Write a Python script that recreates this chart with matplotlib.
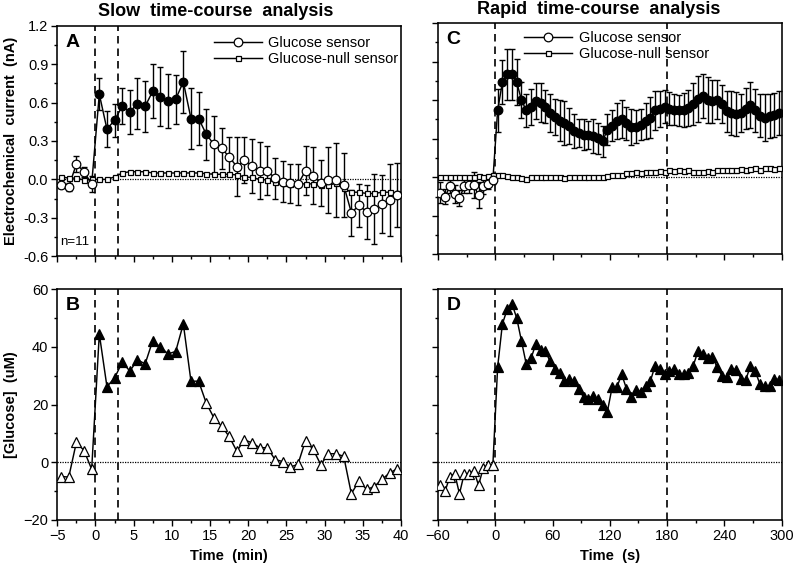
import matplotlib
matplotlib.use('Agg')
import matplotlib.pyplot as plt
import numpy as np
from matplotlib.lines import Line2D
from matplotlib.ticker import MultipleLocator

plt.rcParams['font.family'] = ['Liberation Sans', 'DejaVu Sans']

# ---------------- Slow time-course (min) ----------------
slow_time = [-4.5, -3.5, -2.5, -1.5, -0.5, 0.5, 1.5, 2.5, 3.5, 4.5, 5.5, 6.5, 7.5, 8.5,
             9.5, 10.5, 11.5, 12.5, 13.5, 14.5, 15.5, 16.5, 17.5, 18.5, 19.5, 20.5,
             21.5, 22.5, 23.5, 24.5, 25.5, 26.5, 27.5, 28.5, 29.5, 30.5, 31.5, 32.5,
             33.5, 34.5, 35.5, 36.5, 37.5, 38.5, 39.5]
slow_current = [-0.044, -0.057, 0.12, 0.06, -0.036,
                0.665, 0.392, 0.462, 0.571, 0.527, 0.592, 0.571, 0.688, 0.644, 0.61,
                0.626, 0.761, 0.475, 0.475, 0.353,
                0.273, 0.242, 0.177, 0.099, 0.151, 0.106, 0.068, 0.068, 0.008, -0.018,
                -0.031, -0.039, 0.068, 0.029, -0.031, -0.005, -0.005, -0.044, -0.26,
                -0.203, -0.252, -0.231, -0.192, -0.161, -0.122]
slow_current_err = [0.02, 0.03, 0.06, 0.04, 0.06,
                    0.127, 0.138, 0.13, 0.14, 0.17, 0.2, 0.2, 0.21, 0.23, 0.21,
                    0.19, 0.24, 0.24, 0.21, 0.2,
                    0.22, 0.16, 0.15, 0.23, 0.18, 0.21, 0.22, 0.19, 0.16, 0.16,
                    0.15, 0.16, 0.19, 0.22, 0.18, 0.26, 0.29, 0.25, 0.18,
                    0.17, 0.21, 0.27, 0.23, 0.28, 0.25]
slow_current_sig = [False] * 5 + [True] * 15 + [False] * 25
slow_null = [0.02, 0.01, 0.01, -0.005, 0.0, 0.0, 0.0, 0.02, 0.05, 0.06, 0.06, 0.06,
             0.05, 0.05, 0.05, 0.05, 0.05, 0.05, 0.05, 0.045, 0.04, 0.04, 0.04, 0.035,
             0.02, 0.015, 0.0, -0.005, -0.02, -0.03, -0.035, -0.035, -0.035, -0.035,
             -0.045, -0.045, -0.03, -0.07, -0.1, -0.1, -0.11, -0.11, -0.1, -0.1, -0.11]
slow_glucose = [-5.0, -5.2, 6.9, 4.0, -2.5,
                44.5, 26.2, 29.2, 34.7, 31.6, 35.5, 34.1, 42.2, 39.9, 37.6, 38.4, 48.0,
                28.1, 28.1,
                20.5, 15.4, 12.5, 8.9, 3.8, 7.7, 6.7, 5.0, 5.0, 0.9, 0.2, -1.7, -0.8,
                7.5, 4.4, -0.9, 2.9, 2.9, 2.0,
                -11.0, -6.5, -9.5, -8.5, -6.0, -3.8, -2.3]
slow_glucose_sig = [False] * 5 + [True] * 14 + [False] * 26
slow_marks = [0, 3]

# ---------------- Rapid time-course (s) ----------------
rapid_time = [-57.5, -52.5, -47.5, -42.5, -37.5, -32.5, -27.5, -22.5, -17.5, -12.5, -7.5, -2.5,
              2.5, 7.5, 12.5, 17.5, 22.5, 27.5, 32.5, 37.5, 42.5, 47.5, 52.5, 57.5,
              62.5, 67.5, 72.5, 77.5, 82.5, 87.5, 92.5, 97.5, 102.5, 107.5, 112.5, 117.5,
              122.5, 127.5, 132.5, 137.5, 142.5, 147.5, 152.5, 157.5, 162.5, 167.5, 172.5, 177.5,
              182.5, 187.5, 192.5, 197.5, 202.5, 207.5, 212.5, 217.5, 222.5, 227.5, 232.5, 237.5,
              242.5, 247.5, 252.5, 257.5, 262.5, 267.5, 272.5, 277.5, 282.5, 287.5, 292.5, 297.5]
rapid_current = [-0.12, -0.15, -0.07, -0.13, -0.16, -0.07, -0.06, -0.06, -0.14, -0.07, -0.05, -0.02,
                 0.52, 0.74, 0.80, 0.80, 0.74, 0.60, 0.52, 0.55, 0.59, 0.58, 0.55, 0.50,
                 0.47, 0.44, 0.425, 0.40, 0.36, 0.345, 0.33, 0.33, 0.32, 0.305, 0.28, 0.37,
                 0.40, 0.435, 0.455, 0.42, 0.39, 0.395, 0.41, 0.44, 0.465, 0.52, 0.53, 0.55,
                 0.535, 0.525, 0.52, 0.525, 0.54, 0.57, 0.61, 0.63, 0.60, 0.59, 0.605, 0.57,
                 0.515, 0.50, 0.495, 0.50, 0.535, 0.56, 0.52, 0.48, 0.465, 0.475, 0.485, 0.50]
rapid_current_err = [0.08, 0.06, 0.05, 0.07, 0.06, 0.05, 0.06, 0.1, 0.1, 0.06, 0.04, 0.03,
                     0.17, 0.17, 0.2, 0.2, 0.18, 0.14, 0.13, 0.14, 0.14, 0.15, 0.13, 0.15,
                     0.14, 0.16, 0.17, 0.14, 0.13, 0.11, 0.12, 0.11, 0.13, 0.12, 0.12, 0.12,
                     0.12, 0.14, 0.15, 0.13, 0.14, 0.13, 0.12, 0.14, 0.16, 0.15, 0.14, 0.13,
                     0.13, 0.12, 0.12, 0.13, 0.14, 0.16, 0.18, 0.17, 0.18, 0.17, 0.15, 0.15,
                     0.16, 0.17, 0.17, 0.15, 0.16, 0.18, 0.17, 0.17, 0.18, 0.17, 0.17, 0.17]
rapid_current_sig = [False] * 12 + [True] * 60
rapid_null = [0.0, 0.0, 0.0, 0.005, 0.0, 0.005, 0.0, 0.005, 0.01, 0.005, 0.01, 0.015,
              0.02, 0.02, 0.01, 0.0, 0.0, -0.005, -0.01, 0.0, 0.0, 0.0, 0.005, 0.0,
              0.005, 0.0, -0.005, 0.005, 0.005, 0.0, 0.005, 0.005, 0.0, 0.005, 0.005, 0.01,
              0.015, 0.02, 0.02, 0.03, 0.03, 0.04, 0.035, 0.045, 0.04, 0.045, 0.05, 0.045,
              0.055, 0.05, 0.055, 0.05, 0.055, 0.045, 0.04, 0.04, 0.05, 0.045, 0.055, 0.06,
              0.06, 0.055, 0.06, 0.065, 0.06, 0.065, 0.07, 0.06, 0.07, 0.07, 0.065, 0.07]
rapid_glucose = [-8, -10, -5, -4, -11, -4, -4, -3, -8, -2, -1, -1,
                 33, 48, 53, 55, 50, 42, 34, 36, 41, 39, 38.5, 35,
                 32.5, 31, 28, 29, 28, 25.5, 22.5, 22, 23, 22, 20, 17.5,
                 26, 26, 30.5, 25.5, 22.5, 25, 24.5, 26.5, 28, 33.5, 32.5, 30.5,
                 31.5, 32.5, 30.5, 30.5, 31, 33.5, 38.5, 37.5, 36, 36.5, 33, 30,
                 29.5, 32.5, 32, 29, 28.5, 33.5, 31.5, 27, 26.5, 26.5, 29, 28.5]
rapid_glucose_sig = [False] * 12 + [True] * 60
rapid_marks = [0, 180]

W, H = 796, 570
fig = plt.figure(figsize=(W / 100, H / 100), dpi=100)


def px_axes(left, top, right, bottom):
    return fig.add_axes([left / W, 1 - bottom / H, (right - left) / W, (bottom - top) / H])


axA = px_axes(57.3, 25.6, 401, 256.3)
axB = px_axes(57.3, 289.3, 401, 519.7)
axC = px_axes(438, 23.0, 781.5, 254.5)
axD = px_axes(438, 289.3, 781.5, 519.7)

LW = 1.05


def style(ax, xlim, ylim, xmaj, xmin, ymaj, ymin, xlabels, ylabels):
    ax.set_xlim(*xlim)
    ax.set_ylim(*ylim)
    ax.xaxis.set_major_locator(MultipleLocator(xmaj))
    ax.xaxis.set_minor_locator(MultipleLocator(xmin))
    ax.yaxis.set_major_locator(MultipleLocator(ymaj))
    ax.yaxis.set_minor_locator(MultipleLocator(ymin))
    ax.tick_params(which='major', direction='out', length=4.5, width=1.0, labelsize=10.5, pad=2)
    ax.tick_params(which='minor', direction='out', length=2.5, width=1.0)
    ax.tick_params(axis='x', labelbottom=xlabels)
    ax.tick_params(axis='y', labelleft=ylabels)
    for s in ax.spines.values():
        s.set_linewidth(1.15)
    ax.axhline(0, color='k', lw=0.9, ls=(0, (1, 1)), zorder=1)


def current_panel(ax, t, y, err, sig, null, marks):
    t = np.array(t); y = np.array(y); sig = np.array(sig)
    for m in marks:
        ax.axvline(m, color='k', lw=1.2, ls=(0, (4.5, 3)), zorder=1)
    ax.errorbar(t, y, yerr=err, fmt='-', color='k', lw=LW, elinewidth=1.0,
                capsize=2.2, capthick=1.0, zorder=3)
    ax.plot(t, null, '-', color='k', lw=LW, zorder=2)
    ax.plot(t, null, 's', mfc='white', mec='k', ms=3.6, mew=0.9, zorder=4)
    ax.plot(t[sig], y[sig], 'o', mfc='k', mec='k', ms=6.2, mew=0.9, zorder=5)
    ax.plot(t[~sig], y[~sig], 'o', mfc='white', mec='k', ms=6.2, mew=0.9, zorder=5)


def glucose_panel(ax, t, y, sig, marks):
    t = np.array(t); y = np.array(y); sig = np.array(sig)
    for m in marks:
        ax.axvline(m, color='k', lw=1.2, ls=(0, (4.5, 3)), zorder=1)
    ax.plot(t, y, '-', color='k', lw=LW, zorder=2)
    ax.plot(t[sig], y[sig], '^', mfc='k', mec='k', ms=6.8, mew=0.9, zorder=4)
    ax.plot(t[~sig], y[~sig], '^', mfc='white', mec='k', ms=6.8, mew=0.9, zorder=4)


current_panel(axA, slow_time, slow_current, slow_current_err, slow_current_sig, slow_null, slow_marks)
glucose_panel(axB, slow_time, slow_glucose, slow_glucose_sig, slow_marks)
current_panel(axC, rapid_time, rapid_current, rapid_current_err, rapid_current_sig, rapid_null, rapid_marks)
glucose_panel(axD, rapid_time, rapid_glucose, rapid_glucose_sig, rapid_marks)

style(axA, (-5, 40), (-0.6, 1.2), 5, 2.5, 0.3, 0.15, False, True)
style(axB, (-5, 40), (-20, 60), 5, 2.5, 20, 10, True, True)
style(axC, (-60, 300), (-0.6, 1.2), 60, 30, 0.3, 0.15, False, False)
style(axD, (-60, 300), (-20, 60), 60, 30, 20, 10, True, False)

axA.yaxis.set_major_formatter(matplotlib.ticker.FormatStrFormatter('%.1f'))

for ax, letter in [(axA, 'A'), (axB, 'B'), (axC, 'C'), (axD, 'D')]:
    ax.text(0.025, 0.965, letter, transform=ax.transAxes, fontsize=14,
            fontweight='bold', va='top', ha='left')

axA.text(0.008, 0.035, 'n=11', transform=axA.transAxes, fontsize=9.5, va='bottom', ha='left')

handles = [Line2D([], [], color='k', lw=LW, marker='o', mfc='white', mec='k', ms=6.2, mew=0.9),
           Line2D([], [], color='k', lw=LW, marker='s', mfc='white', mec='k', ms=3.6, mew=0.9)]
labels = ['Glucose sensor', 'Glucose-null sensor']
for ax, x0, y0 in [(axA, 0.455, 0.955), (axC, 0.25, 0.965)]:
    ax.legend(handles, labels, loc='upper left', bbox_to_anchor=(x0, y0), frameon=False,
              handlelength=3.3, handletextpad=0.45, labelspacing=0.12, borderpad=0,
              borderaxespad=0, fontsize=10.5)

fig.text(216 / W, 1 - 12 / H, 'Slow  time-course  analysis', ha='center', va='center',
         fontsize=13, fontweight='bold')
fig.text(599 / W, 1 - 10 / H, 'Rapid  time-course  analysis', ha='center', va='center',
         fontsize=13, fontweight='bold')
fig.text(11 / W, 1 - 141 / H, 'Electrochemical  current  (nA)', rotation=90, ha='center',
         va='center', fontsize=10.5, fontweight='bold')
fig.text(11 / W, 1 - 405 / H, '[Glucose]  (uM)', rotation=90, ha='center',
         va='center', fontsize=10.5, fontweight='bold')
fig.text(229 / W, 1 - 556 / H, 'Time  (min)', ha='center', va='center',
         fontsize=10.5, fontweight='bold')
fig.text(610 / W, 1 - 556 / H, 'Time  (s)', ha='center', va='center',
         fontsize=10.5, fontweight='bold')

fig.savefig('out.png', dpi=100)
